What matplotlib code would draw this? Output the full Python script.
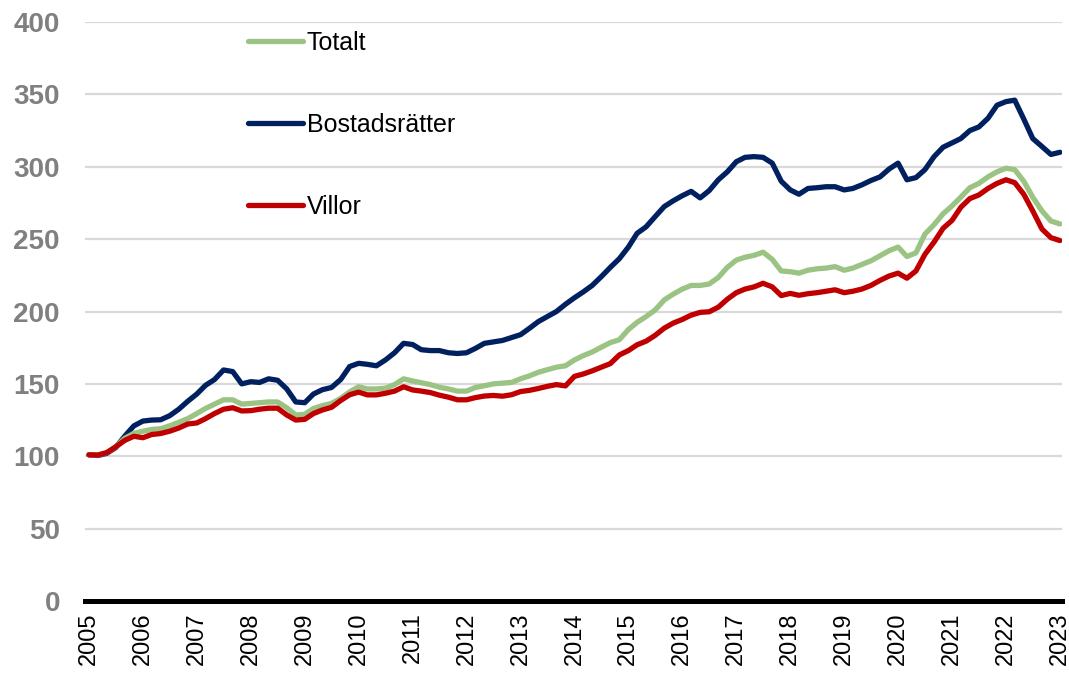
import numpy as np
import pandas as pd
import matplotlib.pyplot as plt
import matplotlib.dates as mdates
from matplotlib.lines import Line2D

# bi-monthly index values, 2005 = 100
dates = pd.date_range('2005-01-01', '2023-01-01', freq='2MS')

bostadsratter = [
    101.0, 100.5, 102.0, 106.0, 114.0, 121.0,   # 2005
    124.3, 125.0, 125.2, 128.0, 132.5, 138.0,   # 2006
    143.0, 149.0, 153.0, 159.6, 158.5, 150.0,   # 2007
    151.5, 151.0, 153.5, 152.5, 146.5, 137.5,   # 2008
    137.0, 143.0, 146.0, 147.5, 153.0, 162.0,   # 2009
    164.2, 163.5, 162.5, 166.5, 171.5, 178.0,   # 2010
    177.2, 173.6, 173.0, 173.0, 171.5, 171.0,   # 2011
    171.5, 174.5, 178.0, 179.0, 180.0, 182.0,   # 2012
    184.0, 188.3, 193.0, 196.5, 200.0, 205.0,   # 2013
    209.5, 213.5, 218.0, 224.0, 230.5, 236.5,   # 2014
    244.5, 254.0, 258.5, 265.5, 272.5, 276.5,   # 2015
    280.0, 283.0, 278.5, 283.5, 291.0, 296.5,   # 2016
    303.5, 306.5, 307.0, 306.5, 302.5, 290.0,   # 2017
    284.0, 281.0, 285.0, 285.5, 286.2, 286.2,   # 2018
    284.0, 285.0, 287.5, 290.5, 293.0, 298.4,   # 2019
    302.5, 291.0, 292.5, 298.0, 307.0, 313.5,   # 2020
    316.5, 319.5, 325.0, 327.5, 333.5, 342.5,   # 2021
    345.0, 346.0, 333.0, 319.5, 314.0, 308.5,   # 2022
    310.0,                                      # 2023
]

totalt = [
    101.0, 100.8, 102.5, 106.5, 112.5, 115.8,
    117.3, 118.5, 119.0, 121.0, 123.5, 126.0,
    129.5, 133.0, 136.0, 139.0, 139.0, 136.0,
    136.5, 137.0, 137.5, 137.5, 133.5, 128.5,
    129.0, 133.0, 135.0, 136.5, 140.0, 144.5,
    148.0, 146.5, 146.5, 147.0, 149.5, 153.5,
    152.0, 150.8, 149.5, 147.7, 146.5, 145.0,
    145.0, 147.5, 148.7, 150.0, 150.5, 151.0,
    153.5, 155.5, 158.0, 159.8, 161.5, 162.5,
    166.5, 169.5, 172.0, 175.3, 178.5, 180.5,
    187.5, 192.5, 196.5, 201.0, 208.0, 212.0,
    215.5, 218.0, 218.0, 219.0, 223.5, 230.5,
    235.5, 237.5, 238.8, 241.0, 236.0, 228.0,
    227.5, 226.5, 228.5, 229.5, 230.0, 231.0,
    228.5, 230.0, 232.5, 235.0, 238.5, 242.0,
    244.5, 238.0, 240.5, 253.5, 260.0, 267.5,
    273.0, 279.0, 285.5, 288.5, 293.0, 296.5,
    299.0, 298.0, 290.0, 279.0, 269.5, 262.5,
    260.5,
]

villor = [
    101.0, 100.8, 102.5, 106.5, 111.0, 113.8,
    112.8, 115.0, 115.7, 117.3, 119.5, 122.3,
    123.0, 126.0, 129.5, 132.5, 133.5, 131.3,
    131.5, 132.5, 133.2, 133.2, 128.5, 125.0,
    125.5, 129.5, 132.0, 133.8, 138.5, 142.5,
    144.3, 142.4, 142.4, 143.5, 145.0, 148.0,
    145.8, 145.0, 144.0, 142.2, 140.8, 139.0,
    139.0, 140.5, 141.6, 142.0, 141.5, 142.5,
    144.7, 145.5, 146.8, 148.3, 149.5, 148.6,
    155.2, 156.8, 159.0, 161.5, 164.0, 170.0,
    173.0, 177.0, 179.5, 183.5, 188.5, 192.0,
    194.5, 197.5, 199.4, 199.8, 203.0, 208.5,
    213.0, 215.5, 217.0, 219.5, 217.0, 211.0,
    212.5, 211.2, 212.3, 213.0, 214.0, 215.0,
    213.0, 214.0, 215.5, 218.0, 221.5, 224.5,
    226.5, 223.0, 228.0, 239.5, 248.0, 257.5,
    263.0, 272.0, 278.0, 280.5, 285.0, 288.5,
    291.0, 289.0, 281.0, 269.5, 257.0, 251.0,
    249.0,
]

years = list(range(2005, 2024))

c_tot = '#9BC383'
c_br = '#002060'
c_vi = '#C00000'

plt.rcParams['font.family'] = ['Liberation Sans', 'DejaVu Sans']

fig = plt.figure(figsize=(10.69, 6.73), dpi=100)
ax = fig.add_axes([85/1069, 1 - 601/673, 977/1069, 579/673])

lw = 3.8
ax.plot(dates, bostadsratter, color=c_br, lw=lw, solid_capstyle='round')
ax.plot(dates, totalt, color=c_tot, lw=lw, solid_capstyle='round')
ax.plot(dates, villor, color=c_vi, lw=lw, solid_capstyle='round')

ax.set_ylim(0, 400)
ax.set_yticks(np.arange(0, 401, 50))
start = pd.Timestamp('2005-01-01') - pd.Timedelta(days=27)
end = pd.Timestamp('2023-01-01') + pd.Timedelta(days=14)
ax.set_xlim(start, end)
ax.set_xticks([pd.Timestamp(f'{y}-01-01') for y in years])
ax.xaxis.set_major_formatter(mdates.DateFormatter('%Y'))
ax.tick_params(axis='x', labelrotation=90, labelsize=17, pad=8)

ax.grid(axis='y', color='#D9D9D9', lw=1.6)
ax.set_axisbelow(True)
for s in ['top', 'right', 'left']:
    ax.spines[s].set_visible(False)
ax.spines['bottom'].set_linewidth(3.6)
ax.spines['bottom'].set_color('black')
ax.tick_params(axis='both', length=0)
ax.tick_params(axis='y', pad=18, labelsize=20, labelcolor='#808080')
for lbl in ax.get_yticklabels():
    lbl.set_fontweight('bold')

handles = [Line2D([], [], color=c_tot, lw=lw, solid_capstyle='round'),
           Line2D([], [], color=c_br, lw=lw, solid_capstyle='round'),
           Line2D([], [], color=c_vi, lw=lw, solid_capstyle='round')]
ax.legend(handles, ['Totalt', 'Bostadsrätter', 'Villor'], loc='upper left',
          bbox_to_anchor=(0.1668, 0.985), frameon=False, fontsize=18,
          handlelength=2.2, handletextpad=0.15, labelspacing=2.33,
          borderpad=0, borderaxespad=0)

fig.savefig('out.png', dpi=100)
